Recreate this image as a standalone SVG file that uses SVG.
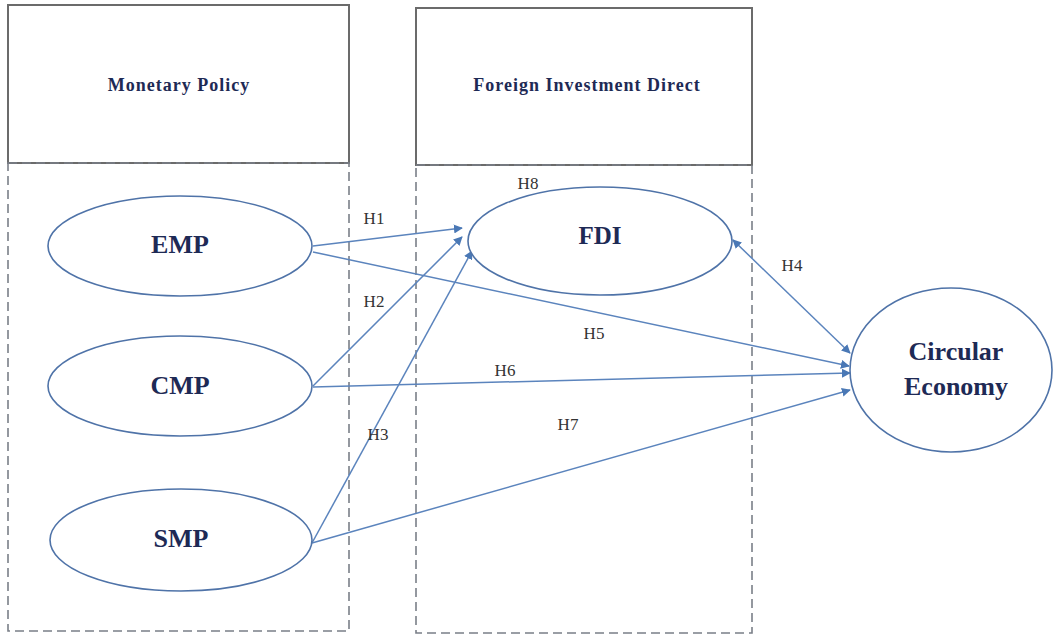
<svg xmlns="http://www.w3.org/2000/svg" width="1054" height="634" viewBox="0 0 1054 634">
<defs>
<marker id="ah" viewBox="0 0 10 10" refX="9" refY="5" markerWidth="9" markerHeight="9" markerUnits="userSpaceOnUse" orient="auto-start-reverse">
<path d="M0,0 L10,5 L0,10 z" fill="#4a78b5"/>
</marker>
<style>
.hdr{fill:#fff;stroke:#6b6b6b;stroke-width:2}
.dash{fill:none;stroke:#7a7f88;stroke-width:1.6;stroke-dasharray:9,5}
.ell{fill:#fff;stroke:#4f73a8;stroke-width:1.6}
.t{font-family:"Liberation Serif",serif;font-weight:bold;fill:#1e2a55;text-anchor:middle}
.ht{font-size:18px;letter-spacing:1px}
.h{font-family:"Liberation Serif",serif;font-size:17px;fill:#333;text-anchor:middle}
.c{fill:none;stroke:#5b84bd;stroke-width:1.5;marker-end:url(#ah)}
</style>
</defs>
<rect width="1054" height="634" fill="#fff"/>
<g id="monetary-policy">
<rect class="hdr" x="8" y="5" width="341" height="158"/>
<rect class="dash" x="8" y="163" width="341" height="468"/>
<text class="t ht" x="179" y="91">Monetary Policy</text>
</g>
<g id="foreign-investment-direct">
<rect class="hdr" x="416" y="8" width="336" height="157"/>
<rect class="dash" x="416" y="165" width="336" height="468"/>
<text class="t ht" x="587" y="91">Foreign Investment Direct</text>
</g>
<g id="connectors">
<line class="c" x1="313" y1="246" x2="462" y2="228"/>
<line class="c" x1="313" y1="386" x2="462" y2="237"/>
<line class="c" x1="312" y1="543" x2="472" y2="251"/>
<line class="c" x1="733" y1="240" x2="850" y2="353" marker-start="url(#ah)"/>
<line class="c" x1="313" y1="252" x2="849" y2="366"/>
<line class="c" x1="313" y1="387" x2="850" y2="373"/>
<line class="c" x1="312" y1="543" x2="850" y2="390"/>
</g>
<g id="labels">
<text class="h" x="374" y="224">H1</text>
<text class="h" x="374" y="307">H2</text>
<text class="h" x="378" y="440">H3</text>
<text class="h" x="792" y="271">H4</text>
<text class="h" x="594" y="339">H5</text>
<text class="h" x="505" y="376">H6</text>
<text class="h" x="568" y="430">H7</text>
<text class="h" x="528" y="189">H8</text>
</g>
<g id="EMP">
<ellipse class="ell" cx="180" cy="246" rx="132" ry="50"/>
<text class="t" x="180" y="253" font-size="26">EMP</text>
</g>
<g id="CMP">
<ellipse class="ell" cx="180" cy="386" rx="132" ry="50"/>
<text class="t" x="180" y="394" font-size="26">CMP</text>
</g>
<g id="SMP">
<ellipse class="ell" cx="181" cy="540" rx="131" ry="51"/>
<text class="t" x="181" y="547" font-size="26">SMP</text>
</g>
<g id="FDI">
<ellipse class="ell" cx="600" cy="241" rx="132" ry="54"/>
<text class="t" x="600" y="244" font-size="25">FDI</text>
</g>
<g id="circular-economy">
<ellipse class="ell" cx="951" cy="370" rx="101" ry="82"/>
<text class="t" x="956" y="360" font-size="26">Circular</text>
<text class="t" x="956" y="395" font-size="26">Economy</text>
</g>
</svg>
